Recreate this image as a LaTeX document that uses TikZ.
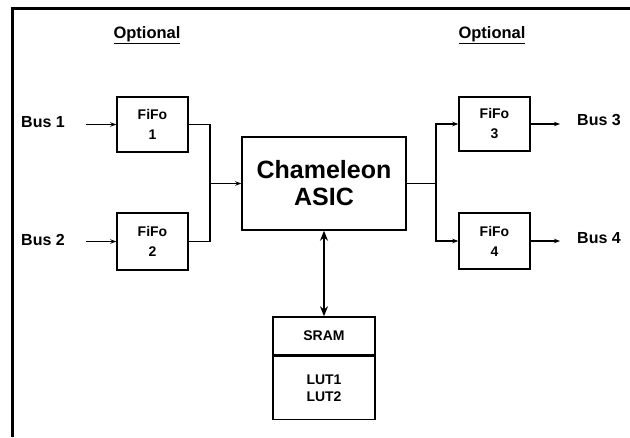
\documentclass[tikz,border=0pt]{standalone}
\usepackage{fontspec}
\setmainfont{Liberation Sans}
\usetikzlibrary{arrows.meta,calc}
\begin{document}
\begin{tikzpicture}[x=1pt,y=-1pt,
  box/.style={draw,line width=1.5pt,minimum width=71pt,inner sep=0pt,align=center,font=\fontsize{14}{17}\selectfont\bfseries},
  lbl/.style={font=\fontsize{16}{18}\selectfont\bfseries,inner sep=0pt},
  wire/.style={line width=1.5pt},
  sarr/.style={wire,-{Stealth[length=6pt,width=4.5pt]}}]
\useasboundingbox (0,0) rectangle (630,437);
\fill[white] (0,0) rectangle (630,437);
% frame
\draw[line width=3pt] (12,437) -- (12,8) -- (630,8);
% headings
\node[lbl,font=\fontsize{16.5}{18}\selectfont\bfseries] (opt1) at (147,35) {\underline{Optional}};
\node[lbl,font=\fontsize{16.5}{18}\selectfont\bfseries] (opt2) at (492,35) {\underline{Optional}};
% fifos
\node[box,minimum height=55pt] (f1) at (152.5,124.5) {FiFo\\[3pt]1};
\node[box,minimum height=57pt] (f2) at (152.5,241.5) {FiFo\\[3pt]2};
\node[box,minimum height=54pt] (f3) at (494.5,124) {FiFo\\[3pt]3};
\node[box,minimum height=56pt] (f4) at (494.5,241) {FiFo\\[3pt]4};
% asic
\node[box,minimum width=164pt,minimum height=93pt,font=\fontsize{25}{27}\selectfont\bfseries] (asic) at (324,183.5) {Chameleon\\ASIC};
% sram
\node[box,minimum width=102pt,minimum height=38pt] (sram) at (324,336) {SRAM};
\node[box,minimum width=102pt,minimum height=63pt,anchor=north] (lut) at (sram.south) {LUT1\\LUT2};
% bus labels
\node[lbl] (b1) at (43,122) {Bus 1};
\node[lbl] (b2) at (43,240) {Bus 2};
\node[lbl] (b3) at (599,120) {Bus 3};
\node[lbl] (b4) at (599,238) {Bus 4};
\coordinate (i1) at (86,124.5);
\coordinate (i2) at (86,241.5);
\coordinate (o3) at (560,124);
\coordinate (o4) at (560,241);
\coordinate (jl) at (210,183.5);
\coordinate (jr) at (436,183.5);
% connectors
\draw[sarr] (i1) -- (f1.west);
\draw[sarr] (i2) -- (f2.west);
\draw[sarr] (f3.east) -- (o3);
\draw[sarr] (f4.east) -- (o4);
\draw[wire] (f1.east) -| (jl) |- (f2.east);
\draw[sarr] (jl) -- (asic.west);
\draw[wire] (asic.east) -- (jr);
\draw[sarr] (jr) |- (f3.west);
\draw[sarr] (jr) |- (f4.west);
\draw[line width=2.8pt,{Stealth[length=10pt,width=8pt]}-{Stealth[length=10pt,width=8pt]}] (asic.south) -- (sram.north);
\end{tikzpicture}
\end{document}
